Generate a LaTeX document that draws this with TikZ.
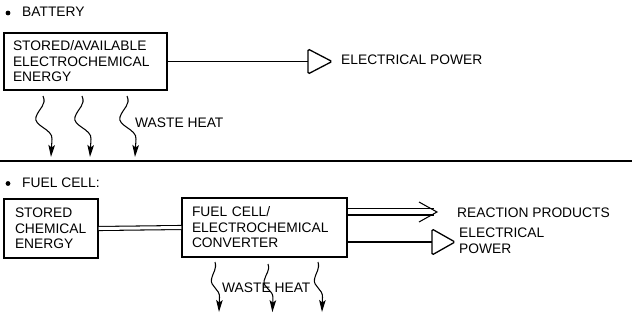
\documentclass[tikz,border=0pt]{standalone}
\usepackage{fontspec}
\setmainfont{Liberation Sans}
\usetikzlibrary{arrows.meta}
% #1 start coordinate, #2 vertical scale, #3 horizontal scale
\newcommand\wavearrow[3]{\draw[wv] (#1) .. controls +(4*#3,9*#2) and +(3*#3,-9*#2) .. ++(-7*#3,21*#2) .. controls +(-3*#3,9*#2) and +(1*#3,-10*#2) .. ++(16*#3,22*#2) -- ++(-1*#3,18*#2);}
\begin{document}
\begin{tikzpicture}[x=1pt,y=-1pt,
  lbl/.style={font=\fontsize{13.8}{16}\selectfont, inner sep=0pt},
  box/.style={draw, line width=1.3pt, font=\fontsize{13.8}{15.5}\selectfont, align=left, inner ysep=0pt},
  conn/.style={line width=1.05pt},
  tri/.style={line width=1.3pt, rounded corners=1.5pt},
  wv/.style={line width=1.05pt, -{Stealth[length=12pt,width=6.5pt,inset=2.5pt]}},
  dot/.style={circle, fill, inner sep=0pt, minimum size=4.8pt}]
\useasboundingbox (0,0) rectangle (632,321);
% --- battery
\node[dot] (d1) at (8,13) {};
\node[lbl, anchor=base west] (hb) at (22,17) {BATTERY};
\node[box, minimum width=163pt, minimum height=57pt, text width=145pt, inner xsep=9pt] (b1) at (85.5,61.5) {STORED/AVAILABLE\\ELECTROCHEMICAL\\ENERGY};
\coordinate (t1) at (308,61.5);
\draw[conn] (b1.east) -- (t1);
\draw[tri] (t1) ++(0,-12.5) -- ++(24,12.5) -- ++(-24,12.5) -- cycle;
\node[lbl, anchor=base west] (ep1) at (341,65) {ELECTRICAL POWER};
\coordinate (w1) at (43,96);
\coordinate (w2) at (82,96);
\coordinate (w3) at (127,96);
\wavearrow{w1}{1}{1}
\wavearrow{w2}{1}{1}
\wavearrow{w3}{1}{1}
\node[lbl, anchor=base west] (wh1) at (135,128) {WASTE HEAT};
% --- separator
\coordinate (s1) at (0,161);
\coordinate (s2) at (632,161);
\draw[line width=1.6pt] (s1) -- (s2);
% --- fuel cell
\node[dot] (d2) at (8,183.5) {};
\node[lbl, anchor=base west] (hf) at (22,187) {FUEL CELL:};
\node[box, minimum width=94pt, minimum height=59pt, text width=72pt, inner xsep=11pt] (b3) at (51,228.5) {STORED\\CHEMICAL\\ENERGY};
\node[box, minimum width=165pt, minimum height=59pt, text width=145pt, inner xsep=10pt] (b4) at (264.5,227.5) {FUEL CELL/\\ELECTROCHEMICAL\\CONVERTER};
\draw[conn, double, double distance=3pt] (b3.east) -- (b4.west);
\coordinate (rp) at (437,212);
\draw[conn] ([yshift=19pt]b4.east) -- ++(86,0);
\draw[conn] ([yshift=12.5pt]b4.east) -- ++(86,0);
\draw[conn] (419,202) -- (rp) -- (419,222);
\node[lbl, anchor=base west] (rpl) at (457,217) {REACTION PRODUCTS};
\coordinate (t2) at (432,242);
\draw[conn] (b4.east |- t2) -- (t2);
\draw[tri] (t2) ++(0,-13) -- ++(23,13) -- ++(-23,13) -- cycle;
\node[lbl, anchor=base west] (ep2a) at (459,237) {ELECTRICAL};
\node[lbl, anchor=base west] (ep2b) at (459,253) {POWER};
\coordinate (w4) at (215,262);
\coordinate (w5) at (268,264);
\coordinate (w6) at (318,262);
\wavearrow{w4}{0.82}{0.5}
\wavearrow{w5}{0.79}{0.55}
\wavearrow{w6}{0.82}{0.5}
\node[lbl, anchor=base west] (wh2) at (222,292) {WASTE HEAT};
\end{tikzpicture}
\end{document}
